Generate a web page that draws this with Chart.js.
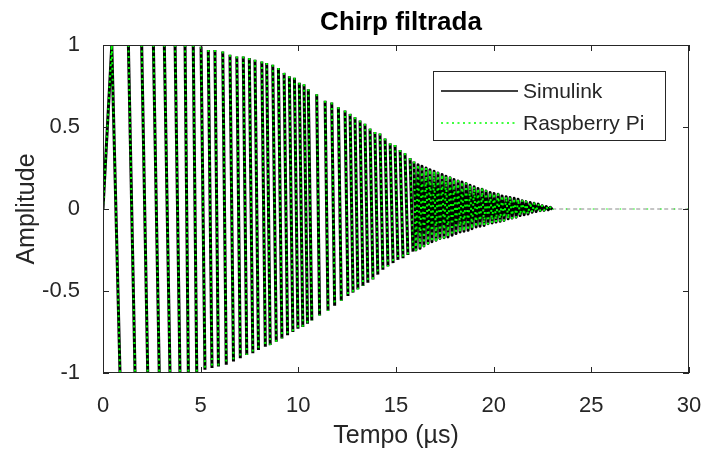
<!DOCTYPE html>
<html>
<script src="https://cdn.jsdelivr.net/npm/chart.js"></script>
<style type="text/css">
  body { margin: 0; background: #fff; }
  .chartBox { width: 707px; height: 454px; }
</style>
<body>
  <div class="chartBox">
    <canvas id="myChart"></canvas>
  </div>

  <script>
    const titulo = 'Chirp filtrada';
    const etiquetaX = 'Tempo (\u00b5s)';
    const etiquetaY = 'Amplitude';
    const series = ['Simulink', 'Raspberry Pi'];

    // each visible stroke of the chirp: top (tPico, pico) then bottom (tValle, valle), in µs
    const tPico = [0.45, 1.30, 1.98, 2.58, 3.14, 3.69, 4.20, 4.62, 5.02, 5.39,
      5.73, 6.13, 6.50, 6.85, 7.18, 7.49, 7.78, 8.13, 8.38, 8.69, 8.98, 9.27, 9.54, 9.80, 10.05, 10.29, 10.51,
      10.94, 11.37, 11.71, 12.05, 12.39, 12.65, 12.90, 13.16, 13.41, 13.67, 13.92, 14.18, 14.44, 14.70, 14.95, 15.21, 15.46, 15.72,
      15.92, 16.13, 16.33, 16.54, 16.74, 16.95, 17.15, 17.36, 17.56, 17.77, 17.97, 18.18, 18.38, 18.59, 18.79, 19.00, 19.20, 19.41,
      19.61, 19.82, 20.02, 20.23, 20.43, 20.64, 20.84, 21.05, 21.25, 21.46, 21.66, 21.87, 22.07, 22.28, 22.48, 22.69, 22.90];
    const pico = [1, 1, 1, 1, 1, 1, 1, 1, 0.99, 0.97,
      0.97, 0.96, 0.94, 0.93, 0.93, 0.92, 0.91, 0.90, 0.89, 0.88, 0.86, 0.83, 0.81, 0.80, 0.77, 0.76, 0.73,
      0.70, 0.66, 0.65, 0.62, 0.60, 0.58, 0.56, 0.54, 0.52, 0.49, 0.47, 0.46, 0.43, 0.40, 0.39, 0.36, 0.34, 0.31,
      0.29, 0.27, 0.26, 0.25, 0.24, 0.23, 0.22, 0.21, 0.20, 0.19, 0.18, 0.17, 0.165, 0.155, 0.145, 0.135, 0.125, 0.12,
      0.11, 0.10, 0.095, 0.09, 0.08, 0.075, 0.07, 0.065, 0.06, 0.05, 0.045, 0.04, 0.035, 0.03, 0.02, 0.015, 0.01];
    const tValle = [0.87, 1.64, 2.29, 2.88, 3.43, 3.94, 4.37, 4.80, 5.22, 5.58,
      5.91, 6.31, 6.68, 7.03, 7.36, 7.67, 7.96, 8.31, 8.56, 8.87, 9.16, 9.45, 9.72, 9.98, 10.23, 10.47, 10.69,
      11.09, 11.52, 11.86, 12.20, 12.54, 12.80, 13.05, 13.31, 13.56, 13.82, 14.07, 14.33, 14.59, 14.85, 15.10, 15.36, 15.61, 15.87,
      16.02, 16.23, 16.43, 16.64, 16.84, 17.05, 17.25, 17.46, 17.66, 17.87, 18.07, 18.28, 18.48, 18.69, 18.89, 19.10, 19.30, 19.51,
      19.71, 19.92, 20.12, 20.33, 20.53, 20.74, 20.94, 21.15, 21.35, 21.56, 21.76, 21.97, 22.17, 22.38, 22.58, 22.79, 23.00];
    const valle = [-1, -1, -1, -1, -1, -1, -1, -1, -0.98, -0.97,
      -0.96, -0.95, -0.93, -0.91, -0.89, -0.88, -0.86, -0.84, -0.83, -0.81, -0.79, -0.77, -0.75, -0.73, -0.72, -0.70, -0.68,
      -0.65, -0.62, -0.59, -0.56, -0.53, -0.51, -0.49, -0.47, -0.45, -0.43, -0.40, -0.37, -0.35, -0.33, -0.31, -0.30, -0.28, -0.26,
      -0.25, -0.24, -0.225, -0.21, -0.20, -0.19, -0.18, -0.175, -0.17, -0.16, -0.15, -0.14, -0.135, -0.13, -0.12, -0.11, -0.105, -0.10,
      -0.09, -0.085, -0.08, -0.075, -0.07, -0.06, -0.055, -0.05, -0.04, -0.035, -0.03, -0.02, -0.015, -0.01, -0.008, -0.005, -0.003];
    // start and flat tail of the signal
    const tInicio = [0];
    const yInicio = [0];
    const tCola = [23.1, 30];
    const yCola = [0, 0];

    const xTicks = [0, 5, 10, 15, 20, 25, 30];
    const yTicks = [-1, -0.5, 0, 0.5, 1];

    // strokes are separate until the signal gets too dense to resolve
    const tDenso = 15.8;
    const puntos = [];
    tInicio.forEach((t, i) => puntos.push({x: t, y: yInicio[i]}));
    for (let i = 0; i < tPico.length; i++) {
      puntos.push({x: tPico[i], y: pico[i]});
      puntos.push({x: tValle[i], y: valle[i]});
      if (tPico[i] < tDenso) puntos.push({x: tValle[i], y: null});
    }
    tCola.forEach((t, i) => puntos.push({x: t, y: yCola[i]}));

    const FONT = '"Liberation Sans", Arial, Helvetica, sans-serif';
    Chart.defaults.font.family = FONT;
    Chart.defaults.color = '#262626';

    const enCola = c => c.p0.parsed.x >= tCola[0] - 0.2;

    // matlab-like box, inward ticks, title and legend
    const marco = {
      id: 'marco',
      afterDatasetsDraw(chart) {
        const {ctx, chartArea: a, scales: {x, y}} = chart;
        ctx.save();
        ctx.strokeStyle = '#262626';
        ctx.lineWidth = 1;
        ctx.beginPath();
        xTicks.forEach(v => {
          const px = Math.round(x.getPixelForValue(v)) + 0.5;
          ctx.moveTo(px, a.bottom); ctx.lineTo(px, a.bottom - 6);
          ctx.moveTo(px, a.top); ctx.lineTo(px, a.top + 6);
        });
        yTicks.forEach(v => {
          const py = Math.round(y.getPixelForValue(v)) + 0.5;
          ctx.moveTo(a.left, py); ctx.lineTo(a.left + 6, py);
          ctx.moveTo(a.right, py); ctx.lineTo(a.right - 6, py);
        });
        ctx.stroke();
        ctx.strokeRect(a.left + 0.5, a.top + 0.5, a.width - 1, a.height - 1);

        ctx.fillStyle = '#000';
        ctx.font = 'bold 26px ' + FONT;
        ctx.textAlign = 'center';
        ctx.textBaseline = 'middle';
        ctx.fillText(titulo, (a.left + a.right) / 2 + 5, 23);

        // legend
        const lx = a.right - 256, ly = a.top + 26, lw = 232, lh = 69;
        ctx.fillStyle = '#fff';
        ctx.fillRect(lx, ly, lw, lh);
        ctx.strokeStyle = '#262626';
        ctx.strokeRect(lx + 0.5, ly + 0.5, lw, lh);
        ctx.font = '21px ' + FONT;
        ctx.textAlign = 'left';
        chart.data.datasets.forEach((ds, i) => {
          const yy = ly + 20 + i * 32;
          ctx.save();
          ctx.strokeStyle = ds.borderColor;
          ctx.lineWidth = 1.5;
          ctx.setLineDash(ds.borderDash || []);
          ctx.beginPath();
          ctx.moveTo(lx + 8, yy); ctx.lineTo(lx + 85, yy);
          ctx.stroke();
          ctx.restore();
          ctx.fillStyle = '#262626';
          ctx.fillText(ds.label, lx + 90, yy + 1);
        });
        ctx.restore();
      }
    };

    var ctx = document.getElementById('myChart').getContext('2d');
    var myChart = new Chart(ctx, {
      type: 'line',
      data: {
        datasets: [{
          label: series[0],
          borderColor: '#000000',
          borderWidth: 3,
          borderJoinStyle: 'round',
          pointRadius: 0,
          tension: 0,
          clip: 0,
          order: 2,
          segment: {
            borderColor: c => enCola(c) ? '#8a8a8a' : undefined,
            borderWidth: c => enCola(c) ? 1 : undefined,
            borderDash: c => enCola(c) ? [4, 3] : undefined
          },
          data: puntos
        }, {
          label: series[1],
          borderColor: '#00ff00',
          borderWidth: 2,
          borderJoinStyle: 'round',
          borderDash: [2, 3.5],
          pointRadius: 0,
          tension: 0,
          clip: 0,
          order: 1,
          segment: {
            borderWidth: c => enCola(c) ? 1 : undefined,
            borderDash: c => enCola(c) ? [1.5, 12] : undefined
          },
          data: puntos
        }]
      },
      options: {
        animation: false,
        responsive: true,
        maintainAspectRatio: false,
        layout: { padding: { top: 45, right: 18, left: 0, bottom: 0 } },
        plugins: {
          legend: { display: false },
          tooltip: { enabled: false }
        },
        scales: {
          x: {
            type: 'linear',
            min: 0, max: 30,
            afterFit: s => { s.height = 81; s.paddingLeft = 0; s.paddingRight = 0; },
            afterBuildTicks: s => { s.ticks = xTicks.map(v => ({value: v})); },
            grid: { display: false },
            border: { display: false },
            ticks: { font: { size: 22 }, padding: 12, maxRotation: 0, color: '#262626', callback: v => String(v) },
            title: { display: true, text: etiquetaX, font: { size: 25 }, padding: { top: 0, bottom: 3 }, color: '#262626' }
          },
          y: {
            min: -1, max: 1,
            afterFit: s => { s.width = 103; s.paddingTop = 0; s.paddingBottom = 0; },
            afterBuildTicks: s => { s.ticks = yTicks.map(v => ({value: v})); },
            grid: { display: false },
            border: { display: false },
            ticks: { font: { size: 22 }, padding: 15, color: '#262626', callback: v => String(v) },
            title: { display: true, text: etiquetaY, font: { size: 25 }, padding: { top: 12, bottom: 0 }, color: '#262626' }
          }
        }
      },
      plugins: [marco]
    });
  </script>

</body>
</html>
